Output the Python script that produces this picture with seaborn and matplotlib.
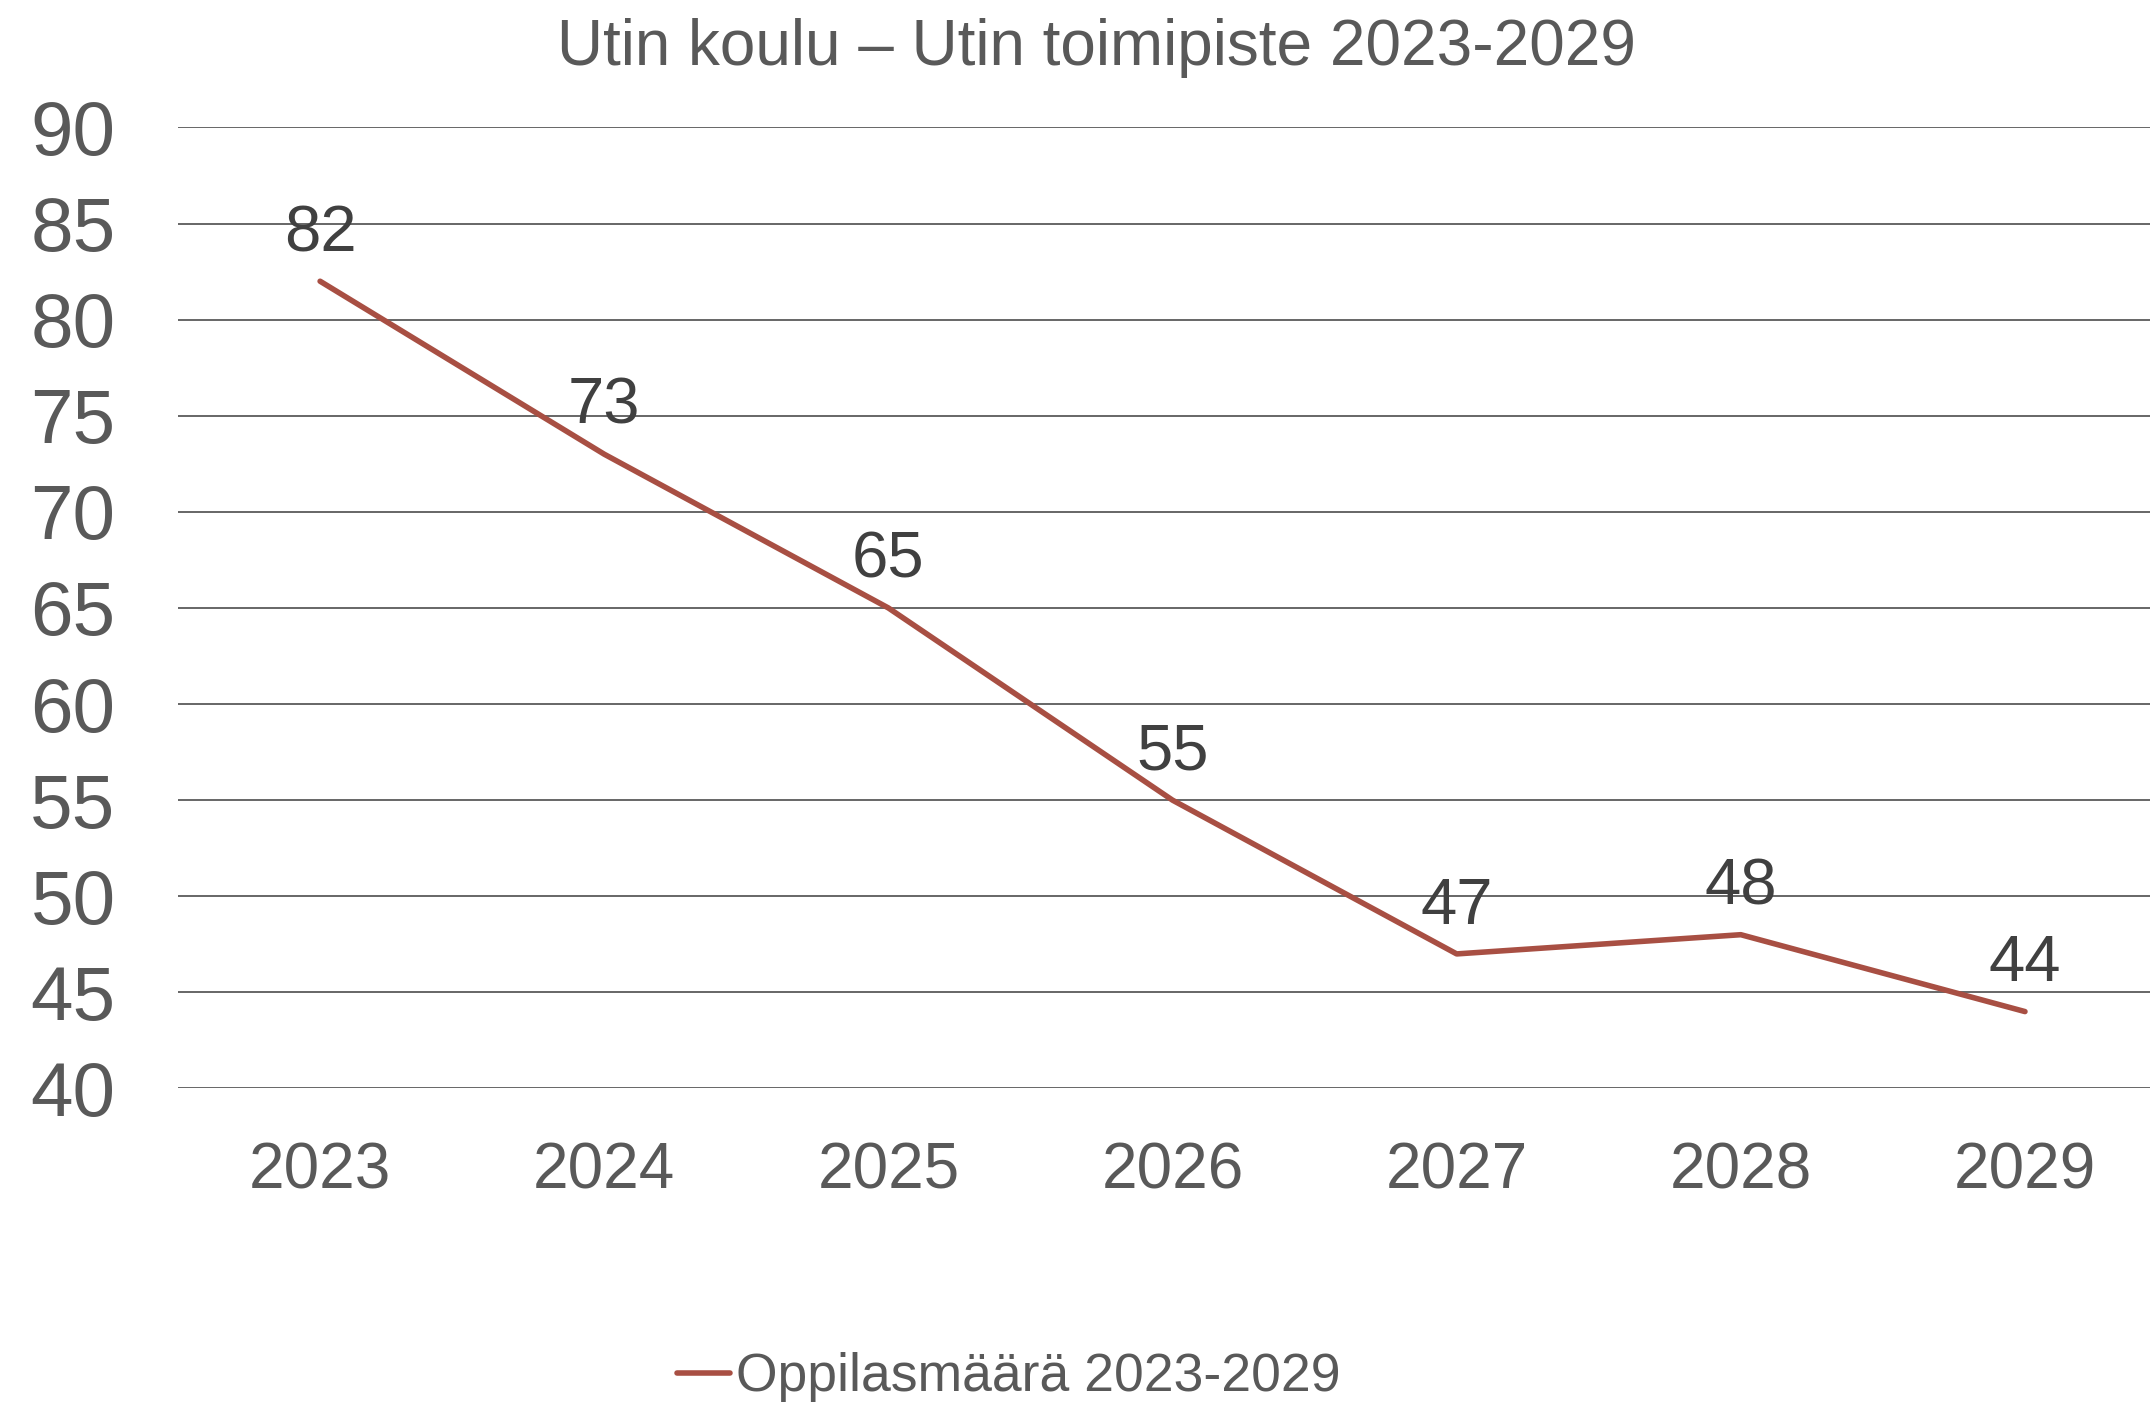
import matplotlib
matplotlib.use("Agg")
import matplotlib.pyplot as plt
import seaborn as sns
import pandas as pd

# Chart data
years = ["2023", "2024", "2025", "2026", "2027", "2028", "2029"]
students = [82, 73, 65, 55, 47, 48, 44]
series_name = "Oppilasmäärä 2023-2029"
title_text = "Utin koulu – Utin toimipiste 2023-2029"

df = pd.DataFrame({"year": years, "students": students, "series": series_name})

sns.set_theme(style="white")
plt.rcParams["font.family"] = ["Liberation Sans", "DejaVu Sans"]

line_color = "#A84F43"
tick_color = "#595959"
label_color = "#404040"

fig = plt.figure(figsize=(21.5, 14.07), dpi=100)
ax = fig.add_axes([0.0828, 0.2264, 0.9172, 0.683])

sns.lineplot(
    data=df, x="year", y="students", hue="series",
    palette=[line_color], linewidth=4, ax=ax, legend=False, sort=False
)

# Data labels above points
for i, v in enumerate(students):
    ax.annotate(str(v), (i, v), xytext=(0, 34), textcoords="offset points",
                ha="center", va="center", fontsize=47, color=label_color)

ax.set_ylim(40, 90)
ax.set_yticks(range(40, 91, 5))
ax.set_xlim(-0.5, 6.44)
ax.grid(axis="y", color="#5a5a5a", linewidth=1.3)
ax.set_axisbelow(True)
for spine in ax.spines.values():
    spine.set_visible(False)

ax.tick_params(axis="y", labelsize=55, colors=tick_color, length=0, pad=45)
ax.tick_params(axis="x", labelsize=46, colors=tick_color, length=0, pad=38)
ax.set_xlabel("")
ax.set_ylabel("")

fig.text(0.51, 0.966, title_text, ha="center", va="center",
         fontsize=46, color=tick_color)

handle = plt.Line2D([], [], color=line_color, linewidth=4)
fig.legend([handle], [series_name], loc="center", bbox_to_anchor=(0.469, 0.021),
           frameon=False, fontsize=38.5, handlelength=1.0, handletextpad=0.1,
           labelcolor=tick_color, borderpad=0.2)

fig.savefig("out.png", dpi=100)
